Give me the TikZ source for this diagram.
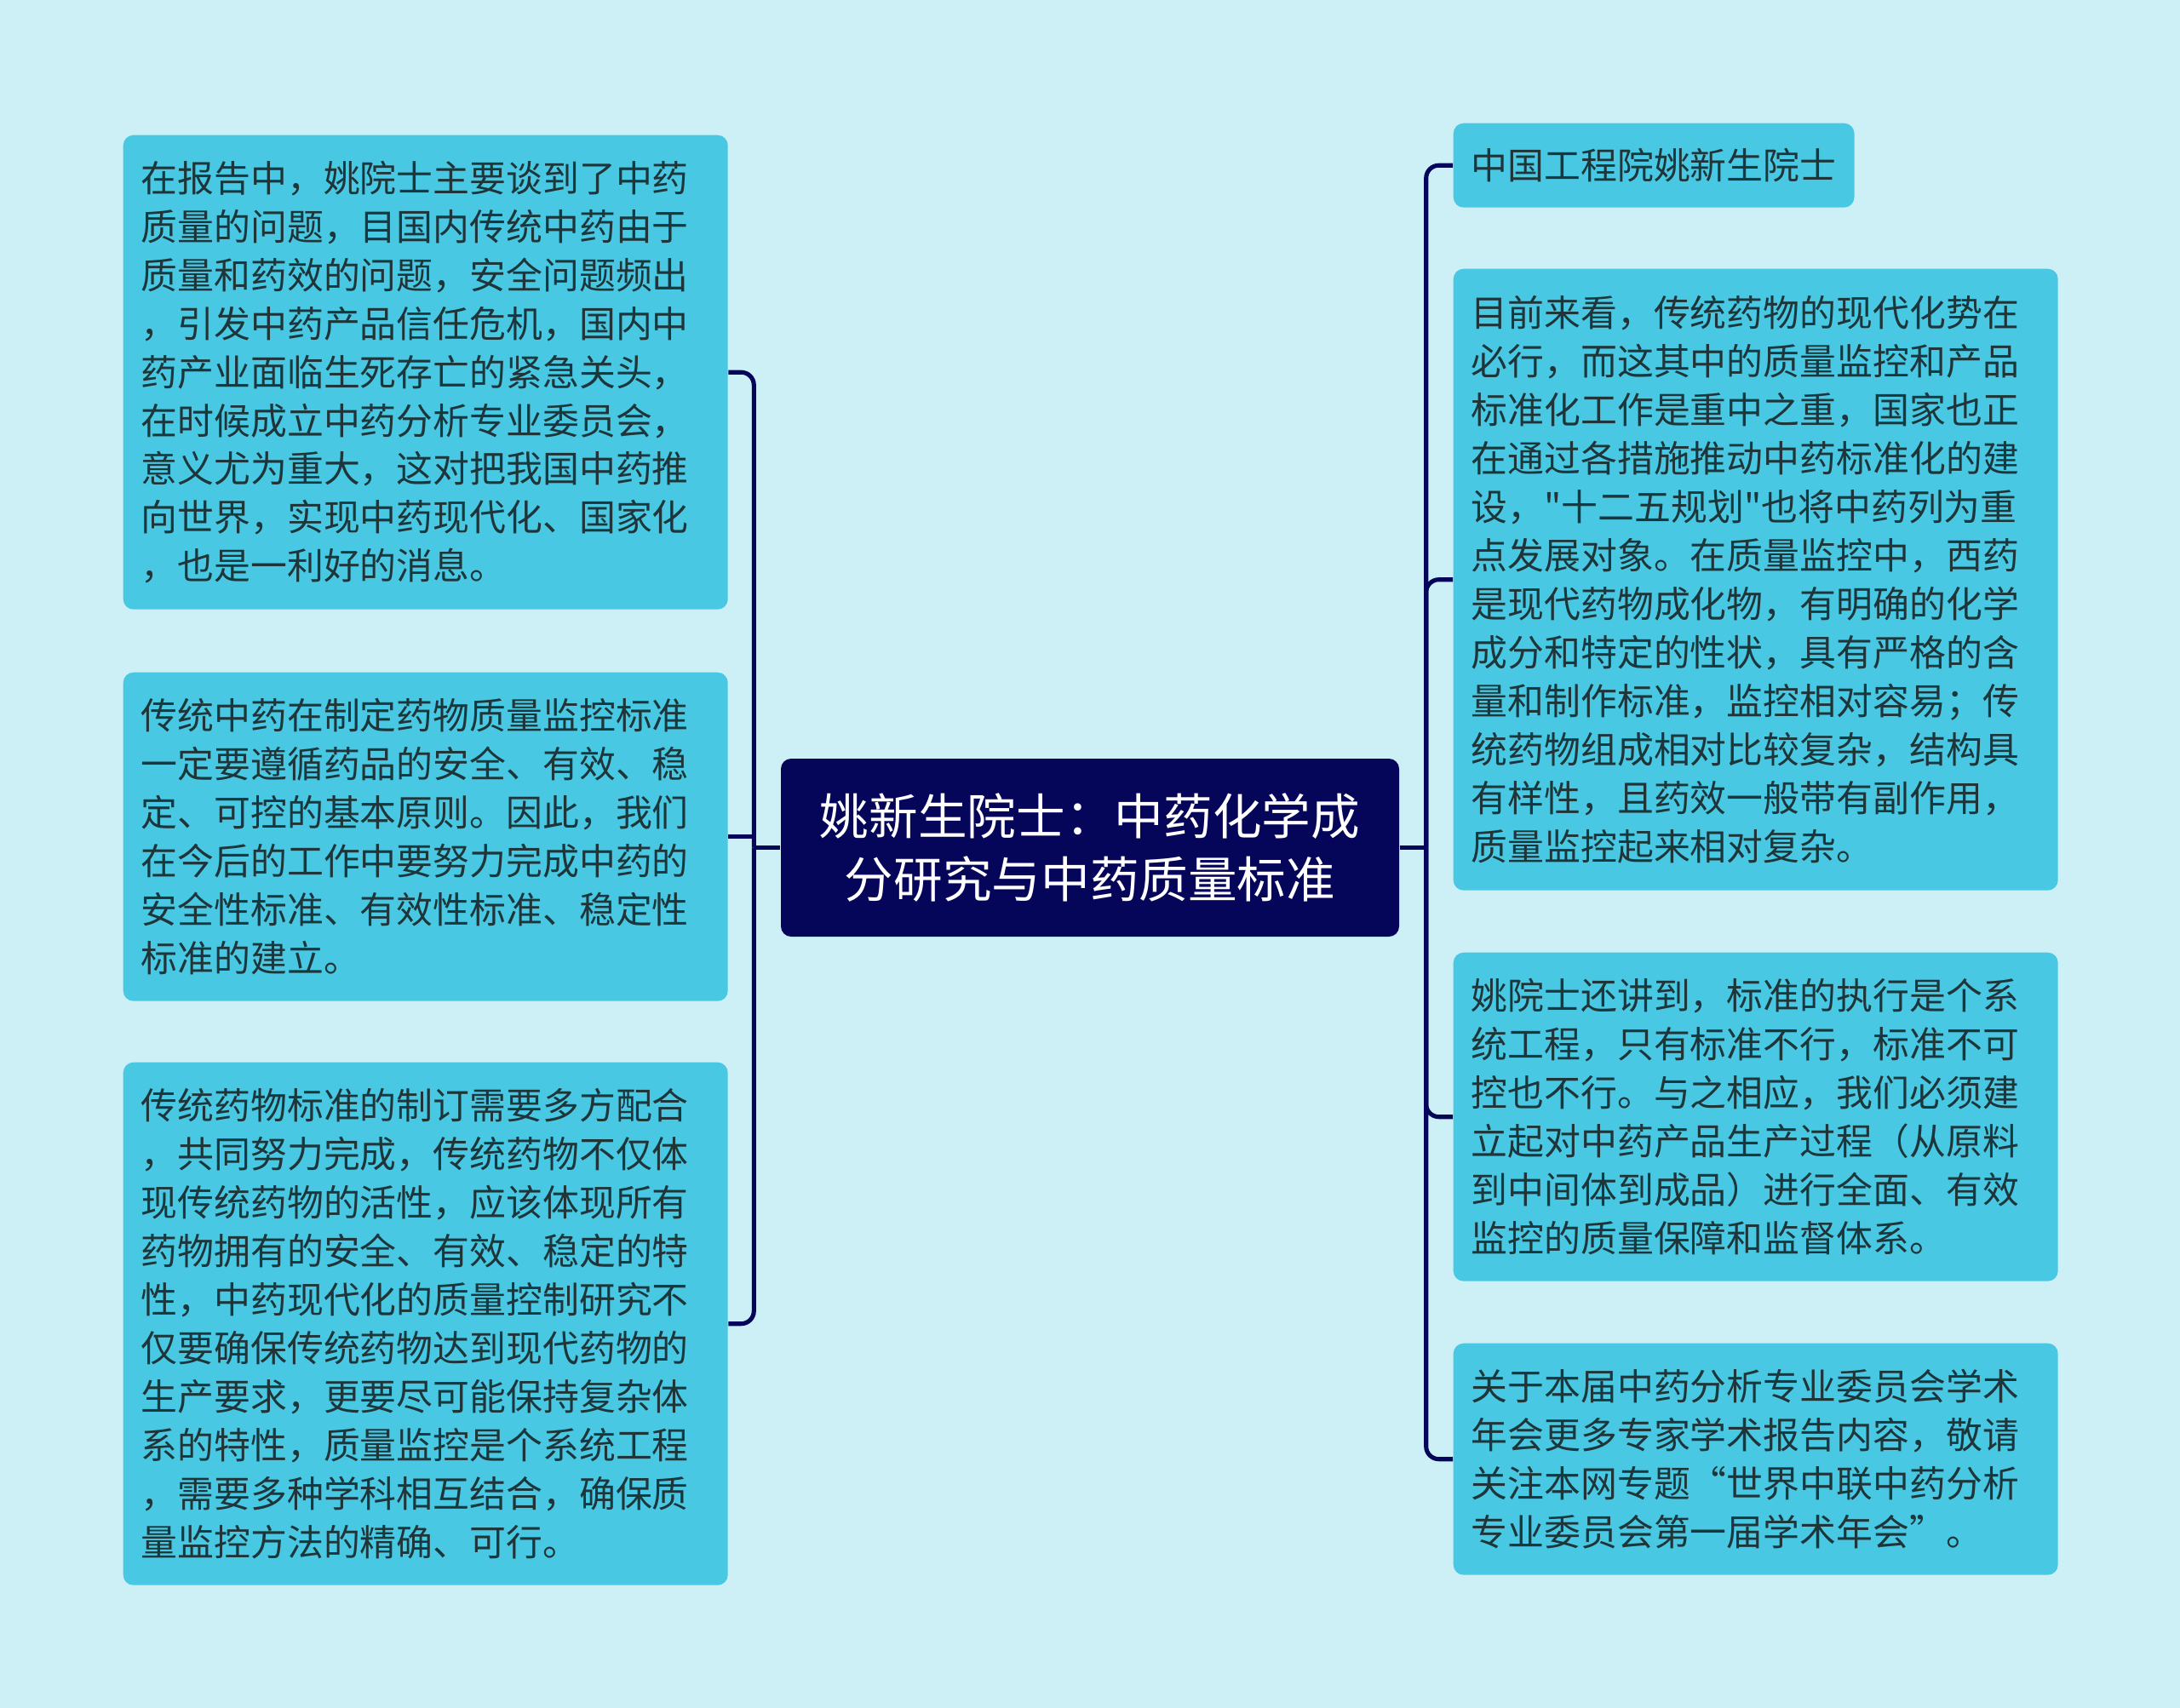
\documentclass[tikz,border=0pt]{standalone}
\usepackage{fontspec}
\newfontfamily\cjk{Noto Sans CJK SC}
\definecolor{bgcol}{HTML}{CDF0F7}
\definecolor{leafcol}{HTML}{48C8E3}
\definecolor{rootcol}{HTML}{05055A}
\definecolor{txtcol}{HTML}{1E3539}
\tikzset{
  leaf/.style={fill=leafcol, rounded corners=0.12cm, text=txtcol, align=left,
    anchor=north west, inner xsep=0.21cm, inner ysep=0pt,
    font=\cjk\fontsize{12.2pt}{16.2pt}\selectfont},
  wide/.style={text width=6.68cm},
  rootbox/.style={fill=rootcol, rounded corners=0.12cm, text=white, align=center,
    minimum width=7.26cm, minimum height=2.09cm,
    font=\cjk\fontsize{16.4pt}{21.3pt}\selectfont},
  link/.style={draw=rootcol, line width=1.45pt, rounded corners=0.15cm}
}
\begin{document}
\begin{tikzpicture}
\fill[bgcol] (0,0) rectangle (25.60,-20.06);
\node[rootbox] (root) at (12.80,-9.955) {姚新生院士：中药化学成\\分研究与中药质量标准};
% left side
\node[leaf, wide, minimum height=5.57cm] (l1) at (1.44,-1.58) {在报告中，姚院士主要谈到了中药\\质量的问题，目国内传统中药由于\\质量和药效的问题，安全问题频出\\，引发中药产品信任危机，国内中\\药产业面临生死存亡的紧急关头，\\在时候成立中药分析专业委员会，\\意义尤为重大，这对把我国中药推\\向世界，实现中药现代化、国家化\\，也是一利好的消息。};
\node[leaf, wide, minimum height=3.86cm] (l2) at (1.44,-7.89) {传统中药在制定药物质量监控标准\\一定要遵循药品的安全、有效、稳\\定、可控的基本原则。因此，我们\\在今后的工作中要努力完成中药的\\安全性标准、有效性标准、稳定性\\标准的建立。};
\node[leaf, wide, minimum height=6.14cm] (l3) at (1.44,-12.47) {传统药物标准的制订需要多方配合\\，共同努力完成，传统药物不仅体\\现传统药物的活性，应该体现所有\\药物拥有的安全、有效、稳定的特\\性，中药现代化的质量控制研究不\\仅要确保传统药物达到现代药物的\\生产要求，更要尽可能保持复杂体\\系的特性，质量监控是个系统工程\\，需要多种学科相互结合，确保质\\量监控方法的精确、可行。};
% right side
\node[leaf, minimum height=0.99cm] (r1) at (17.06,-1.44) {中国工程院姚新生院士};
\node[leaf, wide, minimum height=7.30cm] (r2) at (17.06,-3.15) {目前来看，传统药物的现代化势在\\必行，而这其中的质量监控和产品\\标准化工作是重中之重，国家也正\\在通过各措施推动中药标准化的建\\设，"十二五规划"也将中药列为重\\点发展对象。在质量监控中，西药\\是现代药物成化物，有明确的化学\\成分和特定的性状，具有严格的含\\量和制作标准，监控相对容易；传\\统药物组成相对比较复杂，结构具\\有样性，且药效一般带有副作用，\\质量监控起来相对复杂。};
\node[leaf, wide, minimum height=3.86cm] (r3) at (17.06,-11.18) {姚院士还讲到，标准的执行是个系\\统工程，只有标准不行，标准不可\\控也不行。与之相应，我们必须建\\立起对中药产品生产过程（从原料\\到中间体到成品）进行全面、有效\\监控的质量保障和监督体系。};
\node[leaf, wide, minimum height=2.72cm] (r4) at (17.06,-15.77) {关于本届中药分析专业委员会学术\\年会更多专家学术报告内容，敬请\\关注本网专题“世界中联中药分析\\专业委员会第一届学术年会”。};
% connectors
\path (root.west) ++(-0.31,0) coordinate (lt);
\path (root.east) ++(0.31,0) coordinate (rt);
\draw[link] (root.west) -- (lt);
\draw[link] (root.east) -- (rt);
\foreach \n in {l1,l3}
  \draw[link] (lt) |- (\n.east);
\draw[link] (l2.east) -- (l2.east -| lt);
\foreach \n in {r1,r2,r3,r4}
  \draw[link] (rt) |- (\n.west);
\end{tikzpicture}
\end{document}
